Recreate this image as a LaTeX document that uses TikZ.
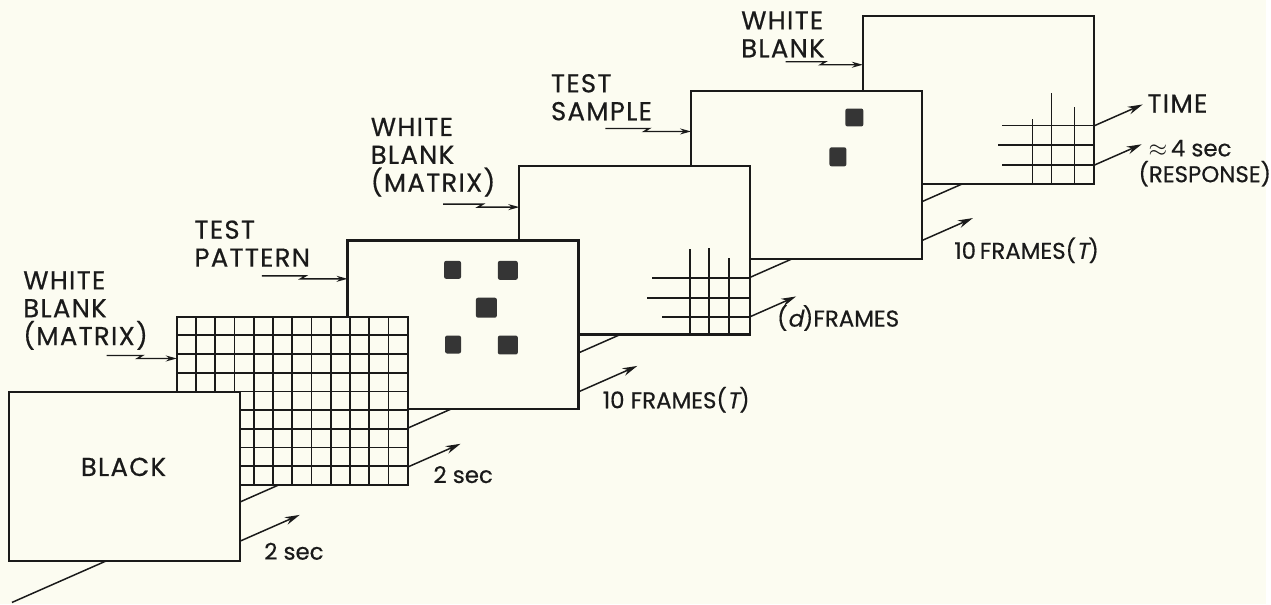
\documentclass[tikz,border=0pt]{standalone}
\usepackage{fontspec}
\setmainfont{Poppins}[FakeBold=0.5]
\newfontfamily\namefont{Poppins}[LetterSpace=5,FakeBold=0.5]
\newfontfamily\slantfont{Poppins}[FakeSlant=0.2,FakeBold=0.5]
\usepackage{tikz}
\usetikzlibrary{arrows.meta}
\definecolor{paper}{HTML}{FCFCF1}
\definecolor{ink}{HTML}{1A1A1A}
\tikzset{
  frame/.style={rectangle,draw=ink,fill=paper,line width=1.1pt,inner sep=0pt,
    outer sep=0pt,minimum width=116pt,minimum height=84.5pt},
  lbl/.style={text=ink,inner sep=0pt,align=left},
  framename/.style={lbl,font=\namefont\fontsize{13}{14}\selectfont},
  gridline/.style={draw=ink,line width=0.9pt},
  blob/.style={fill=ink!88,rounded corners=1pt},
  callout/.style={draw=ink,line width=0.7pt,-{Stealth[length=5.5pt,width=3pt]}},
  span/.style={draw=ink,line width=0.75pt,-{Stealth[length=7.5pt,width=4pt]}},
}

\begin{document}
\begin{tikzpicture}[x=0.5pt,y=-0.5pt,font=\fontsize{11.5}{14}\selectfont]
% sheet is 1271 x 607 units, origin top left, y runs down
\fill[paper] (0,0) rectangle (1271,607);
% ---- time axis, drawn first so that the frames hide it ----
\coordinate (t0) at (12,605);
\coordinate (t1) at (1098.5,126.5);
\draw[ink,line width=0.75pt] (t0) -- (t1);

% ---- frames, back to front ----
\node[frame] (f6) at (982.5,100.5) {};
\begin{scope}[shift={(f6.south east)}]
\foreach \x/\yt in {-61.5/-66,-42.5/-92,-19.5/-78}
  \draw[gridline] (\x,0) -- (\x,\yt);
\foreach \y/\xl in {-59/-92.5,-39/-96.5,-19/-92.5}
  \draw[gridline] (0,\y) -- (\xl,\y);
\end{scope}

\node[frame] (f5) at (810,176) {};
\fill[blob] (849,109) rectangle (867,127);
\fill[blob] (833,148) rectangle (850,167);

\node[frame] (f4) at (637.5,251.5) {};
\begin{scope}[shift={(f4.south east)}]
\foreach \x/\yt in {-60.5/-86,-41.5/-87,-21.5/-77}
  \draw[gridline] (\x,0) -- (\x,\yt);
\foreach \y/\xl in {-57/-98.5,-37/-103.5,-18/-88.5}
  \draw[gridline] (0,\y) -- (\xl,\y);
\end{scope}

\node[frame] (f3) at (465,326) {};
\foreach \a/\b/\c/\d in {446/262/463/280,500/262/520/281,478/299/499/319,
    447/337/463/355,500/337/520/356}
  \fill[blob] (\a,\b) rectangle (\c,\d);

\node[frame] (f2) at (293.5,402.5) {};
\begin{scope}[shift={(f2.north west)}]
\foreach \k in {1,...,11}
  \draw[gridline] (\k*232/12,0) -- (\k*232/12,169);
\foreach \k in {1,...,8}
  \draw[gridline] (0,\k*169/9) -- (232,\k*169/9);
\end{scope}

\node[frame] (f1) at (125,478.5) {};
\node[framename,anchor=base] (black) at (124,478) {BLACK};

% ---- names of the frames, each with its pointer ----
\node[framename,anchor=north west] (wbm1) at (23,272) {WHITE\\BLANK\\(MATRIX)};
\node[framename,anchor=north west] (tpat) at (195,221) {TEST\\PATTERN};
\node[framename,anchor=north west] (wbm2) at (372,118) {WHITE\\BLANK\\(MATRIX)};
\node[framename,anchor=north west] (tsmp) at (553,74) {TEST\\SAMPLE};
\node[framename,anchor=north west] (wb3) at (744,11) {WHITE\\BLANK};
\coordinate (c1) at (107,357);
\coordinate (c2) at (263,277);
\coordinate (c3) at (445,205);
\coordinate (c4) at (608,129);
\coordinate (c5) at (789,62);
\draw[callout] (c1) -- ++(36,0) -- ++(-5,3) -- ([yshift=-21pt]f2.north west);
\draw[callout] (c2) -- ++(44,0) -- ++(-5,3) -- ([yshift=-19.25pt]f3.north west);
\draw[callout] (c3) -- ++(40,0) -- ++(-5,3) -- ([yshift=-20.5pt]f4.north west);
\draw[callout] (c4) -- ++(44,0) -- ++(-5,3) -- ([yshift=-20.25pt]f5.north west);
\draw[callout] (c5) -- ++(40,0) -- ++(-5,3) -- ([yshift=-24.5pt]f6.north west);

% ---- durations, parallel to the axis ----
\draw[span] ([yshift=-32.5pt]f1.east) -- ++(60,-26.4);
\draw[span] ([yshift=-33.25pt]f2.east) -- ++(53,-23.3);
\draw[span] ([yshift=-33.75pt]f3.east) -- ++(59,-26);
\draw[span] ([yshift=-33.25pt]f4.east) -- ++(46,-20.3);
\draw[span] ([yshift=-32.75pt]f5.east) -- ++(51,-22.5);
\draw[span] (t1) -- ++(49,-21.6);
\draw[span] ([yshift=-32.75pt]f6.east) -- ++(48,-21.1);
\node[lbl,anchor=base west] (d1) at (265,562) {2 sec};
\node[lbl,anchor=base west] (d2) at (435,485) {2 sec};
\node[lbl,anchor=base west] (d3) at (605,410) {10 FRAMES({\slantfont T})};
\node[lbl,anchor=base west] (d4) at (780,328) {({\slantfont d})FRAMES};
\node[lbl,anchor=base west] (d5) at (958,260) {10\,FRAMES({\slantfont T})};
\node[framename,anchor=base west] (time) at (1152,113) {TIME};
\node[lbl,anchor=base west] (d6) at (1153,157) {$\approx$\,4 sec};
\node[lbl,anchor=base west] (resp) at (1143,183) {(RESPONSE)};
\end{tikzpicture}
\end{document}
